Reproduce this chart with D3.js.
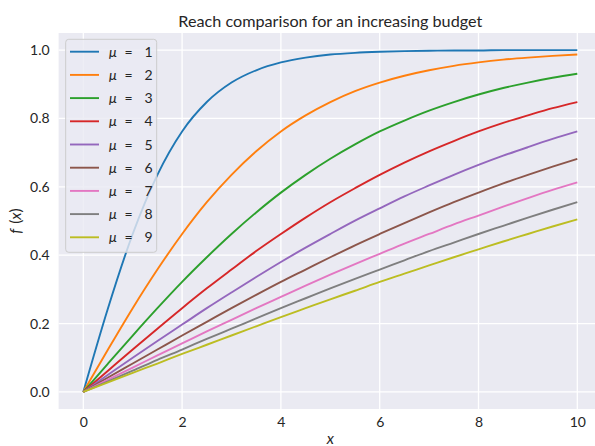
<!DOCTYPE html>
<html>
<head>
<meta charset="utf-8">
<script src="https://cdn.jsdelivr.net/npm/d3@7"></script>
<style>
  body { margin: 0; background: #fff; }
  svg { font-family: Lato, "DejaVu Sans", sans-serif; }
</style>
</head>
<body>
<div id="chart"></div>
<script>
// x positions where the curves were read (step 0.5)
const xs = [0, 0.5, 1, 1.5, 2, 2.5, 3, 3.5, 4, 4.5, 5, 5.5, 6, 6.5, 7, 7.5, 8, 8.5, 9, 9.5, 10];

const mus = [1, 2, 3, 4, 5, 6, 7, 8, 9];

// f(x) values for each mu
const mu1 = [0, 0.245, 0.462, 0.635, 0.762, 0.848, 0.905, 0.941, 0.964, 0.978, 0.987, 0.992, 0.995, 0.997, 0.998, 0.999, 0.999, 1.0, 1.0, 1.0, 1.0];
const mu2 = [0, 0.124, 0.245, 0.358, 0.462, 0.555, 0.635, 0.704, 0.762, 0.809, 0.848, 0.880, 0.905, 0.925, 0.941, 0.954, 0.964, 0.972, 0.978, 0.983, 0.987];
const mu3 = [0, 0.083, 0.165, 0.245, 0.322, 0.394, 0.462, 0.525, 0.583, 0.635, 0.682, 0.724, 0.762, 0.794, 0.823, 0.848, 0.870, 0.889, 0.905, 0.919, 0.931];
const mu4 = [0, 0.062, 0.124, 0.185, 0.245, 0.303, 0.358, 0.412, 0.462, 0.510, 0.555, 0.596, 0.635, 0.671, 0.704, 0.734, 0.762, 0.787, 0.809, 0.830, 0.848];
const mu5 = [0, 0.050, 0.100, 0.149, 0.197, 0.245, 0.291, 0.336, 0.380, 0.422, 0.462, 0.501, 0.537, 0.572, 0.604, 0.635, 0.664, 0.691, 0.716, 0.740, 0.762];
const mu6 = [0, 0.042, 0.083, 0.124, 0.165, 0.205, 0.245, 0.284, 0.322, 0.358, 0.394, 0.429, 0.462, 0.494, 0.525, 0.555, 0.583, 0.610, 0.635, 0.659, 0.682];
const mu7 = [0, 0.036, 0.071, 0.107, 0.142, 0.177, 0.211, 0.245, 0.278, 0.311, 0.343, 0.374, 0.404, 0.434, 0.462, 0.490, 0.516, 0.542, 0.567, 0.591, 0.613];
const mu8 = [0, 0.031, 0.062, 0.094, 0.124, 0.155, 0.185, 0.215, 0.245, 0.274, 0.303, 0.331, 0.358, 0.385, 0.412, 0.437, 0.462, 0.486, 0.510, 0.533, 0.555];
const mu9 = [0, 0.028, 0.056, 0.083, 0.111, 0.138, 0.165, 0.192, 0.219, 0.245, 0.271, 0.296, 0.322, 0.346, 0.370, 0.394, 0.417, 0.440, 0.462, 0.484, 0.505];

const seriesValues = [mu1, mu2, mu3, mu4, mu5, mu6, mu7, mu8, mu9];

const xTicks = [0, 2, 4, 6, 8, 10];
const yTicks = [0.0, 0.2, 0.4, 0.6, 0.8, 1.0];

const colors = ["#1f77b4", "#ff7f0e", "#2ca02c", "#d62728", "#9467bd",
                "#8c564b", "#e377c2", "#7f7f7f", "#bcbd22"];

const width = 595, height = 446;
const margin = { top: 33, right: -7, bottom: 37, left: 58.6 };

const svg = d3.select("#chart").append("svg")
    .attr("width", width)
    .attr("height", height);

// the axes run a little past the right edge of the page, like the reference
const x = d3.scaleLinear().domain([-0.5, 10.5]).range([margin.left, width - margin.right]);
const y = d3.scaleLinear().domain([-0.05, 1.05]).range([height - margin.bottom, margin.top]);

// axes background
svg.append("rect")
    .attr("x", x(-0.5))
    .attr("y", y(1.05))
    .attr("width", x(10.5) - x(-0.5))
    .attr("height", y(-0.05) - y(1.05))
    .attr("fill", "#eaeaf2");

// grid lines
svg.append("g").selectAll("line")
    .data(xTicks)
    .join("line")
    .attr("x1", d => x(d)).attr("x2", d => x(d))
    .attr("y1", y(-0.05)).attr("y2", y(1.05))
    .attr("stroke", "#fff")
    .attr("stroke-width", 1.3);

svg.append("g").selectAll("line")
    .data(yTicks)
    .join("line")
    .attr("x1", x(-0.5)).attr("x2", x(10.5))
    .attr("y1", d => y(d)).attr("y2", d => y(d))
    .attr("stroke", "#fff")
    .attr("stroke-width", 1.3);

// tick labels through d3 axes, no domain or tick marks
const xAxis = svg.append("g")
    .attr("transform", `translate(0,${y(-0.05)})`)
    .call(d3.axisBottom(x).tickValues(xTicks).tickFormat(d3.format("d")).tickSize(0).tickPadding(8));

const yAxis = svg.append("g")
    .attr("transform", `translate(${x(-0.5)},0)`)
    .call(d3.axisLeft(y).tickValues(yTicks).tickFormat(d3.format(".1f")).tickSize(0).tickPadding(9));

[xAxis, yAxis].forEach(a => {
    a.select(".domain").remove();
    a.selectAll("text")
        .attr("font-family", "Lato, sans-serif")
        .attr("font-size", 14)
        .attr("fill", "#262626");
});

// curves
const line = d3.line()
    .x((d, i) => x(xs[i]))
    .y(d => y(d))
    .curve(d3.curveMonotoneX);

svg.append("g").selectAll("path")
    .data(seriesValues)
    .join("path")
    .attr("d", d => line(d))
    .attr("fill", "none")
    .attr("stroke", (d, i) => colors[i])
    .attr("stroke-width", 1.9);

// title and axis labels
svg.append("text")
    .attr("x", (x(-0.5) + x(10.5)) / 2)
    .attr("y", 26.5)
    .attr("text-anchor", "middle")
    .attr("font-size", 16.2)
    .attr("fill", "#262626")
    .text("Reach comparison for an increasing budget");

svg.append("text")
    .attr("x", (x(-0.5) + x(10.5)) / 2)
    .attr("y", 444)
    .attr("text-anchor", "middle")
    .attr("font-size", 15.5)
    .attr("font-style", "italic")
    .attr("fill", "#262626")
    .text("x");

const yLabel = svg.append("text")
    .attr("transform", `translate(21,${(y(-0.05) + y(1.05)) / 2}) rotate(-90)`)
    .attr("text-anchor", "middle")
    .attr("font-size", 15.5)
    .attr("fill", "#262626");
yLabel.append("tspan").attr("font-style", "italic").text("f");
yLabel.append("tspan").attr("dx", 5).text("(");
yLabel.append("tspan").attr("font-style", "italic").text("x");
yLabel.append("tspan").text(")");

// legend
const legend = svg.append("g");
legend.append("rect")
    .attr("x", 65.7).attr("y", 39.3)
    .attr("width", 91).attr("height", 213)
    .attr("rx", 3)
    .attr("fill", "#eaeaf2")
    .attr("fill-opacity", 0.8)
    .attr("stroke", "#cccccc")
    .attr("stroke-width", 1);

const rows = legend.selectAll("g.row")
    .data(mus)
    .join("g")
    .attr("class", "row")
    .attr("transform", (d, i) => `translate(0,${51.7 + i * 23.2})`);

rows.append("line")
    .attr("x1", 70).attr("x2", 99)
    .attr("stroke", (d, i) => colors[i])
    .attr("stroke-width", 1.9);

rows.append("text")
    .attr("x", 109).attr("y", 5)
    .attr("font-size", 14)
    .attr("font-style", "italic")
    .attr("fill", "#262626")
    .text("\u03bc");
rows.append("text")
    .attr("x", 128.5).attr("y", 5)
    .attr("text-anchor", "middle")
    .attr("font-size", 14)
    .attr("fill", "#262626")
    .text("=");
rows.append("text")
    .attr("x", 148.5).attr("y", 5)
    .attr("text-anchor", "middle")
    .attr("font-size", 14)
    .attr("fill", "#262626")
    .text(d => d);
</script>
</body>
</html>
